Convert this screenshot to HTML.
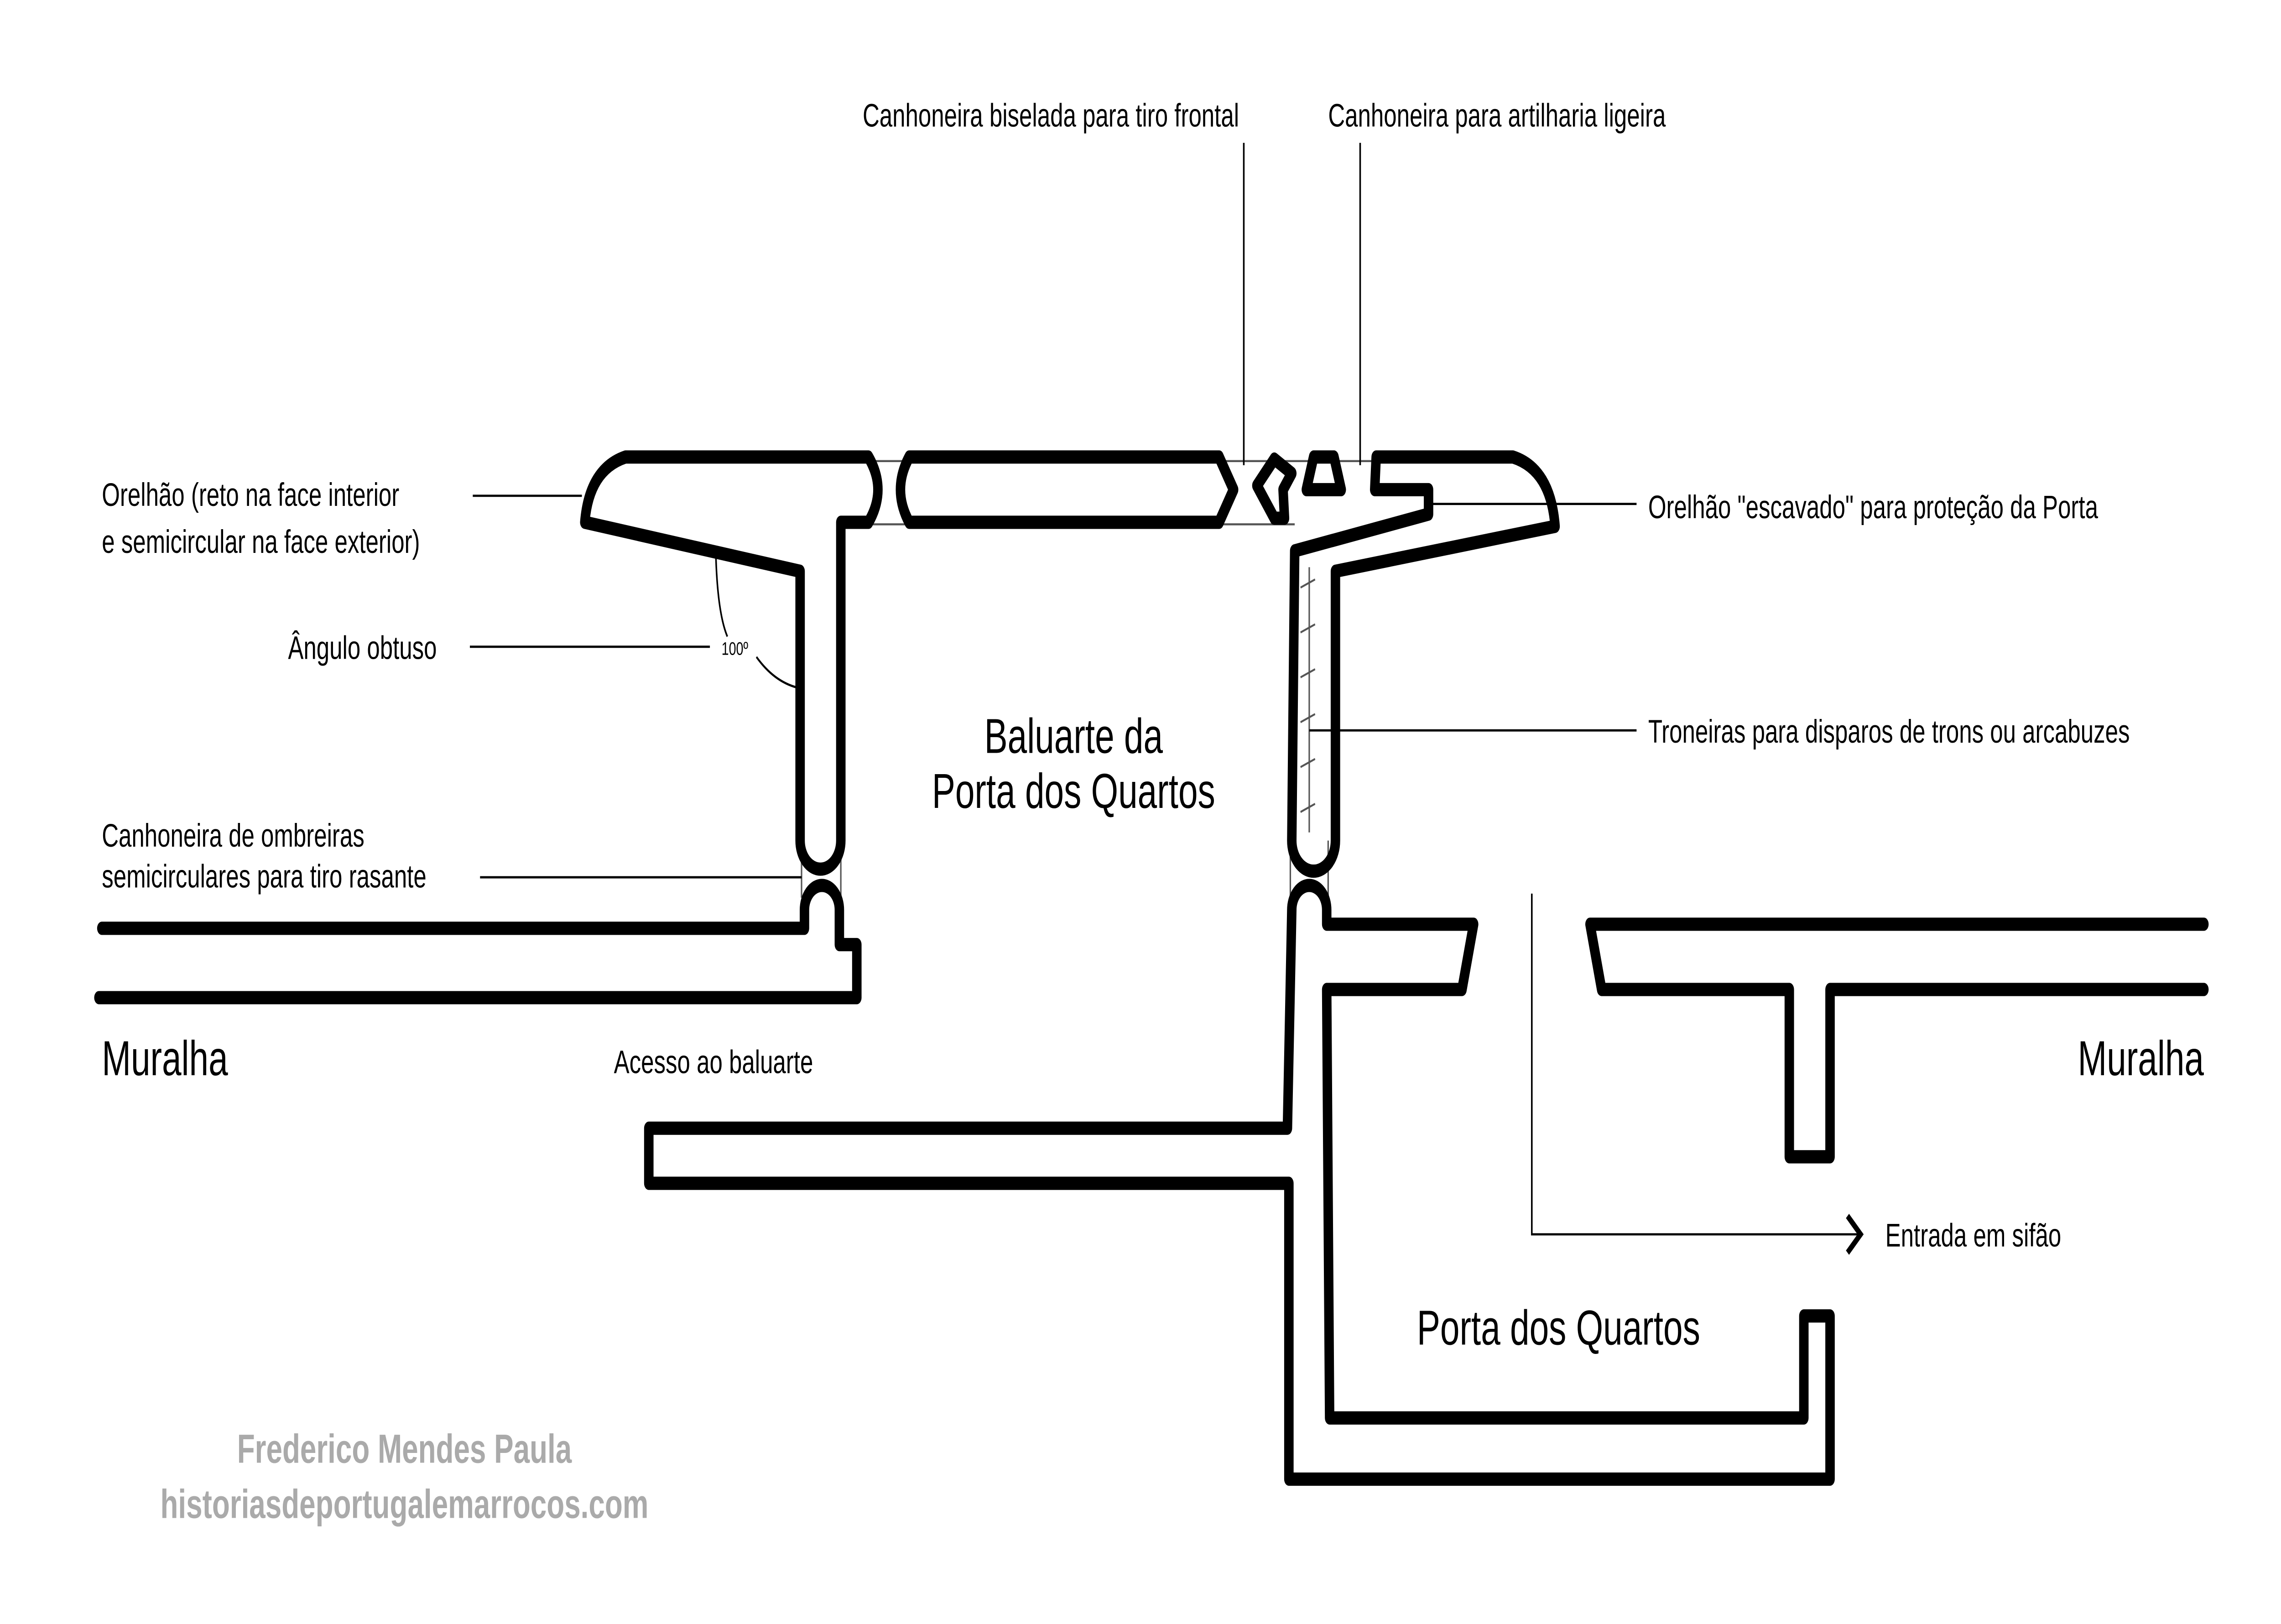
<!DOCTYPE html>
<html><head><meta charset="utf-8"><style>
html,body{margin:0;padding:0;background:#fff;width:100vw;height:100vh;overflow:hidden;}
svg{display:block;position:absolute;left:0;top:0;width:100vw;height:100vh;}
text{font-family:"Liberation Sans",sans-serif;fill:#000;}
</style></head><body>
<svg viewBox="0 0 1568 796" preserveAspectRatio="none" xmlns="http://www.w3.org/2000/svg">
<rect width="1568" height="796" fill="#fff"/>
<g stroke="#555" stroke-width="1" fill="none">
<line x1="600" y1="226" x2="945" y2="226"/>
<line x1="600" y1="257" x2="890" y2="257"/>
<line x1="551" y1="415" x2="551" y2="440"/>
<line x1="578" y1="415" x2="578" y2="440"/>
<line x1="887" y1="412" x2="887" y2="440"/>
<line x1="913" y1="412" x2="913" y2="440"/>
<line x1="900" y1="278" x2="900" y2="408"/>
<line x1="894" y1="288" x2="904" y2="284"/>
<line x1="894" y1="310" x2="904" y2="306"/>
<line x1="894" y1="332" x2="904" y2="328"/>
<line x1="894" y1="354" x2="904" y2="350"/>
<line x1="894" y1="376" x2="904" y2="372"/>
<line x1="894" y1="398" x2="904" y2="394"/>
</g>
<g stroke="#000" stroke-width="1.1" fill="none">
<line x1="325" y1="243" x2="400" y2="243"/>
<line x1="323" y1="317" x2="488" y2="317"/>
<path d="M492,270 Q493,300 500,312"/>
<path d="M520,322 Q532,334 548,337"/>
<line x1="330" y1="430" x2="551" y2="430"/>
<line x1="983" y1="247" x2="1125" y2="247"/>
<line x1="900" y1="358" x2="1125" y2="358"/>
<line x1="855" y1="70" x2="855" y2="228"/>
<line x1="935" y1="70" x2="935" y2="228"/>
<path d="M1053,438 L1053,605 L1278,605"/>
</g>
<path d="M1270,596 L1279,605 L1270,614" stroke="#000" stroke-width="3" fill="none"/>
<g stroke="#000" stroke-width="6.5" fill="none" stroke-linejoin="round" stroke-linecap="round">
<path d="M402,256 Q405,230 430,224 L597,224 Q610,240 597,256 L578,256 L578,412 A14,14 0 0 1 550,412 L550,280 Z"/>
<path d="M625,224 L838,224 L848,240 L838,256 L625,256 Q613,240 625,224 Z"/>
<path d="M876,225 L888,232 L882,240 L883,254 L876,254 L864,238 Z"/>
<path d="M903,224 L917,224 L922,240 L898,240 Z"/>
<path d="M946,224 L1040,224 Q1066,230 1069,258 L918,280 L918,412 A15,15 0 0 1 888,412 L890,270 L982,252 L982,240 L945,240 Z"/>
<path d="M70,455 L553,455 L553,446 A12,12 0 0 1 577,446 L577,463 L589,463 L589,489 L68,489"/>
<path d="M885,553 L888,446 A12,12 0 0 1 912,446 L912,453 L1013,453 L1005,485 L912,485 L914,695 L1240,695 L1240,645 L1258,645 L1258,725 L886,725 L886,580 L446,580 L446,553 Z"/>
<path d="M1515,453 L1093,453 L1101,485 L1230,485 L1230,567 L1258,567 L1258,485 L1515,485"/>
</g>
<g font-size="16">
<text x="593" y="62">Canhoneira biselada para tiro frontal</text>
<text x="913" y="62">Canhoneira para artilharia ligeira</text>
<text x="70" y="248">Orelhão (reto na face interior</text>
<text x="70" y="271">e semicircular na face exterior)</text>
<text x="198" y="323">Ângulo obtuso</text>
<text x="70" y="415">Canhoneira de ombreiras</text>
<text x="70" y="435">semicirculares para tiro rasante</text>
<text x="422" y="526">Acesso ao baluarte</text>
<text x="1133" y="254">Orelhão "escavado" para proteção da Porta</text>
<text x="1133" y="364">Troneiras para disparos de trons ou arcabuzes</text>
<text x="1296" y="611">Entrada em sifão</text>
</g>
<text x="496" y="321" font-size="9">100º</text>
<g font-size="24">
<text x="70" y="527">Muralha</text>
<text x="1515" y="527" text-anchor="end">Muralha</text>
<text x="974" y="659">Porta dos Quartos</text>
<text x="738" y="369" text-anchor="middle">Baluarte da</text>
<text x="738" y="396" text-anchor="middle">Porta dos Quartos</text>
</g>
<g font-size="20" font-weight="bold" text-anchor="middle">
<text x="278" y="717" style="fill:#aaa">Frederico Mendes Paula</text>
<text x="278" y="744" style="fill:#aaa">historiasdeportugalemarrocos.com</text>
</g>
</svg>
</body></html>
